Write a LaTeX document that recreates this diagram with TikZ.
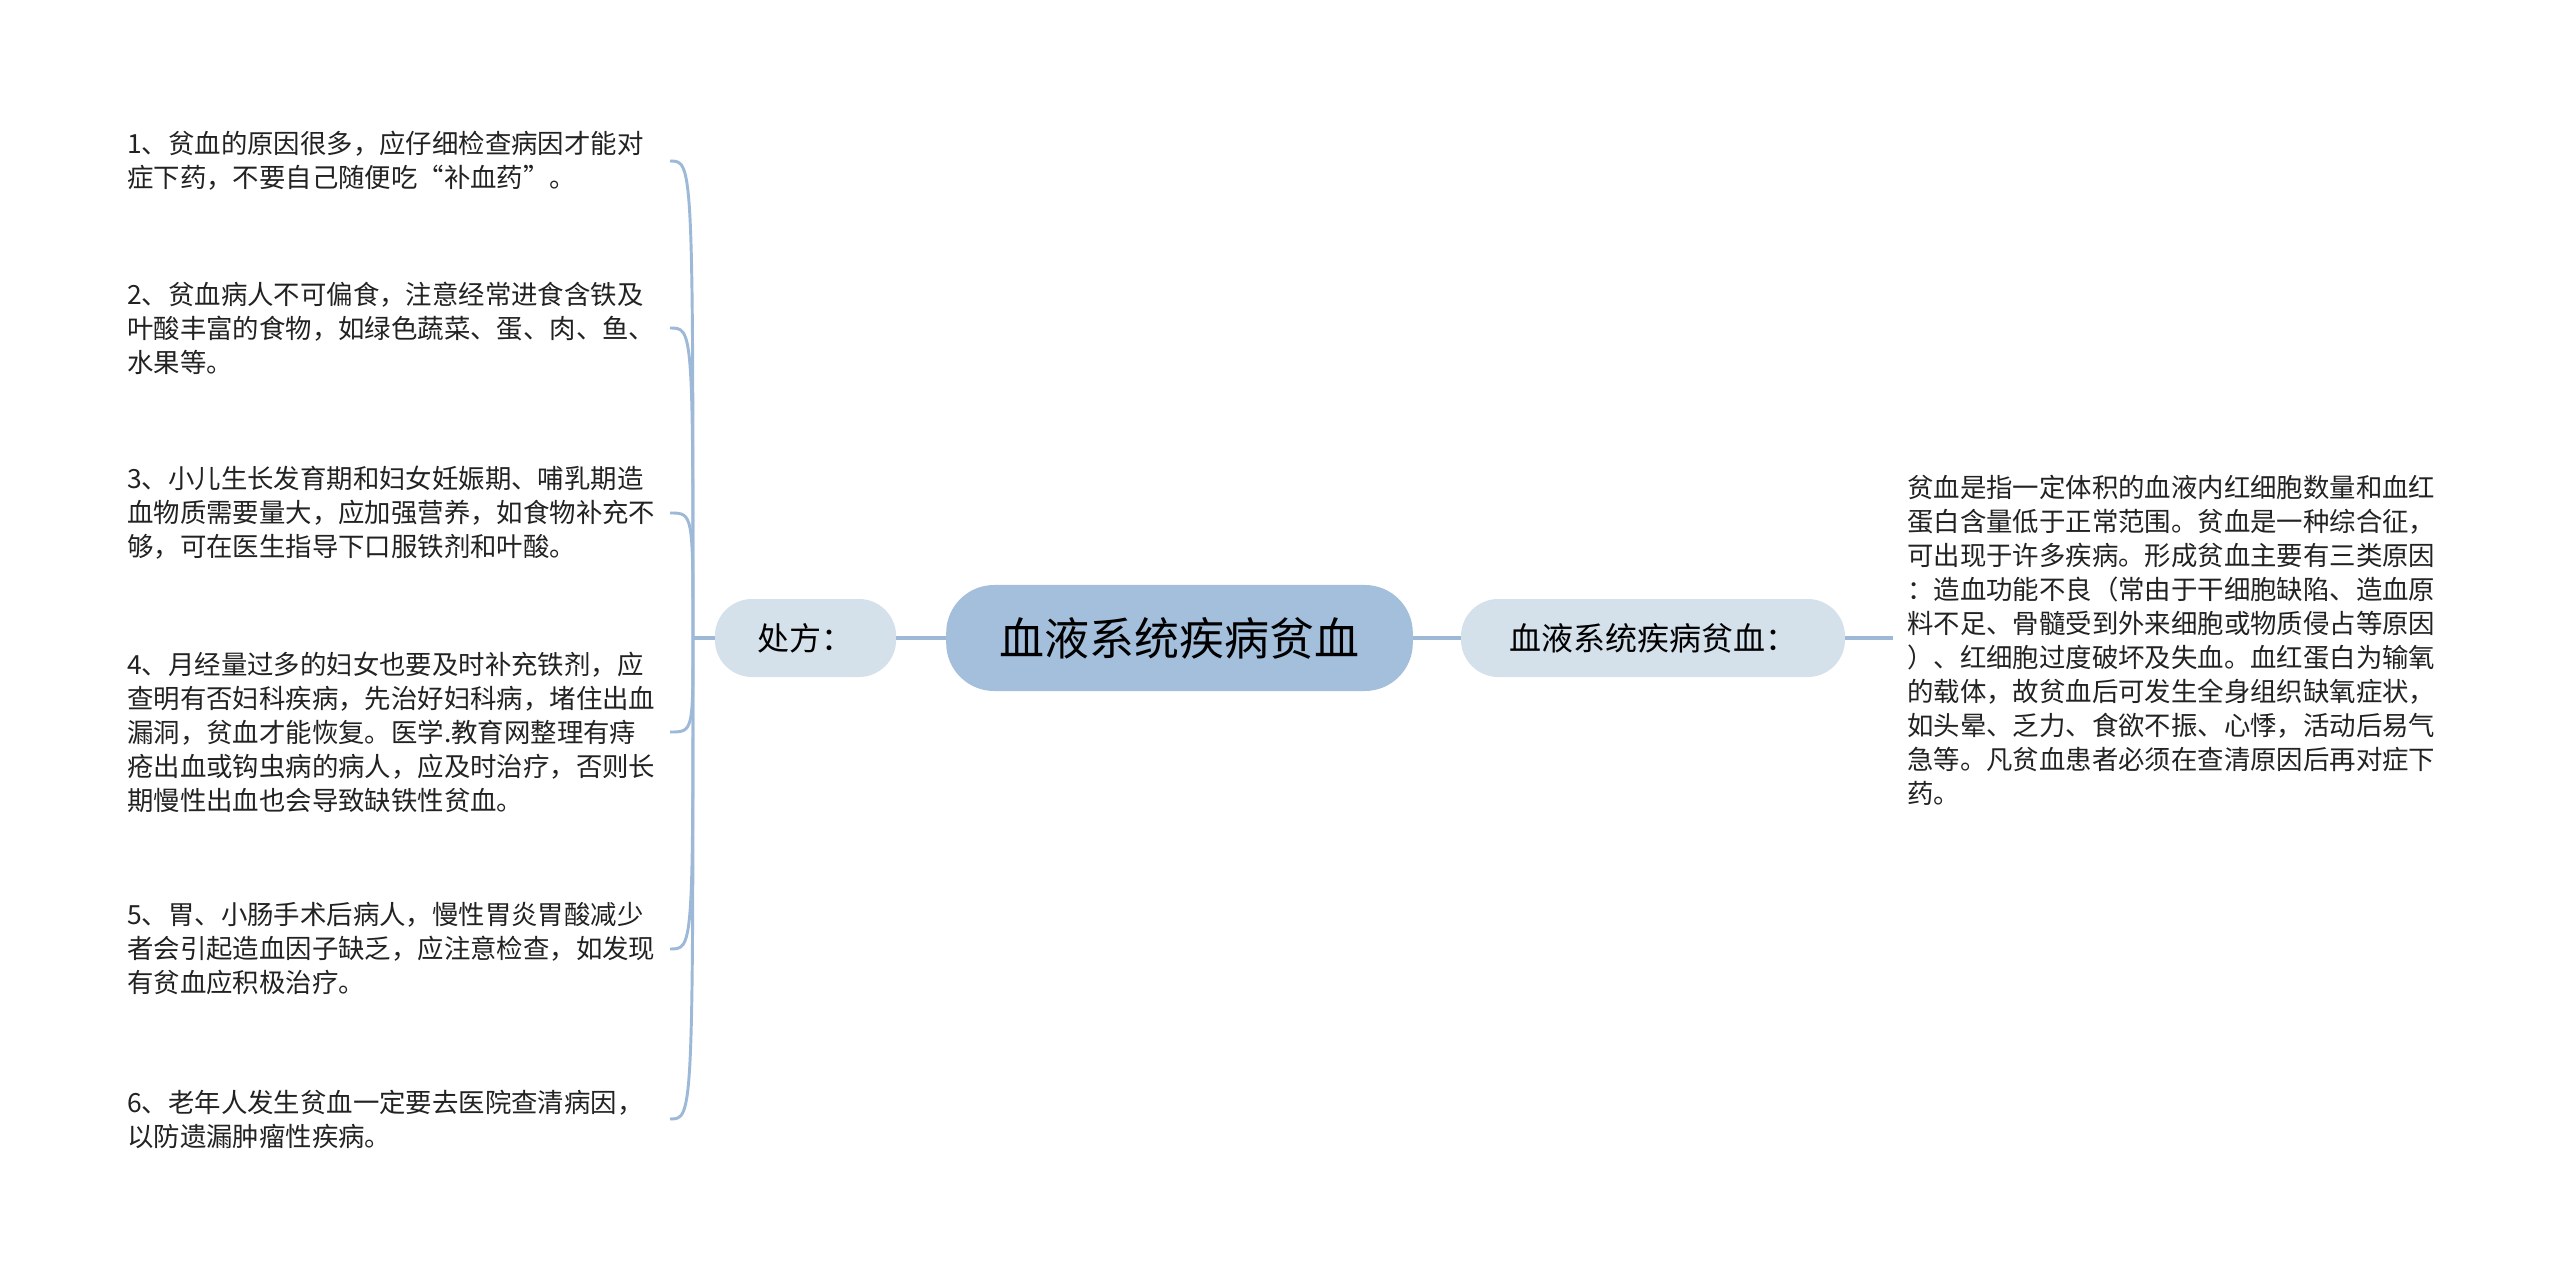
\documentclass[tikz,border=0pt]{standalone}
\usepackage{fontspec}
\setmainfont{Noto Sans CJK SC}
\definecolor{linec}{HTML}{9DB9D7}
\definecolor{rootc}{HTML}{A3BFDB}
\definecolor{subc}{HTML}{D4E0EA}
\definecolor{textc}{HTML}{222222}
\begin{document}
\begin{tikzpicture}[x=0.75pt,y=-0.75pt]
\tikzset{
  conn/.style={draw=linec, line width=3pt},
  bracelink/.style={draw=linec, line width=2.2pt},
  rootbox/.style={fill=rootc, rounded corners=36pt, minimum width=350pt, minimum height=79.5pt, inner sep=0pt, text=black, font=\fontsize{33.75pt}{40pt}\selectfont},
  subbox/.style={fill=subc, rounded corners=28pt, minimum height=58.5pt, inner sep=0pt, text=black, font=\fontsize{24pt}{30pt}\selectfont},
  leaf/.style={anchor=west, align=left, inner sep=0pt, text=textc, font=\fontsize{19.8pt}{25.5pt}\selectfont}
}
\useasboundingbox (0,0) rectangle (2560,1276);
\fill[white] (0,0) rectangle (2560,1276);

\node[rootbox] (root) at (1179.5,638) {血液系统疾病贫血};
\node[subbox, minimum width=136pt] (rx) at (805.5,638) {处方：};
\node[subbox, minimum width=288pt] (rd) at (1653,638) {血液系统疾病贫血：};

\node[leaf] (def) at (1907,640) {贫血是指一定体积的血液内红细胞数量和血红\\蛋白含量低于正常范围。贫血是一种综合征，\\可出现于许多疾病。形成贫血主要有三类原因\\：造血功能不良（常由于干细胞缺陷、造血原\\料不足、骨髓受到外来细胞或物质侵占等原因\\）、红细胞过度破坏及失血。血红蛋白为输氧\\的载体，故贫血后可发生全身组织缺氧症状，\\如头晕、乏力、食欲不振、心悸，活动后易气\\急等。凡贫血患者必须在查清原因后再对症下\\药。};

\node[leaf] (l1) at (127,161) {1、贫血的原因很多，应仔细检查病因才能对\\症下药，不要自己随便吃“补血药”。};
\node[leaf] (l2) at (127,328) {2、贫血病人不可偏食，注意经常进食含铁及\\叶酸丰富的食物，如绿色蔬菜、蛋、肉、鱼、\\水果等。};
\node[leaf] (l3) at (127,513) {3、小儿生长发育期和妇女妊娠期、哺乳期造\\血物质需要量大，应加强营养，如食物补充不\\够，可在医生指导下口服铁剂和叶酸。};
\node[leaf] (l4) at (127,732) {4、月经量过多的妇女也要及时补充铁剂，应\\查明有否妇科疾病，先治好妇科病，堵住出血\\漏洞，贫血才能恢复。医学.教育网整理有痔\\疮出血或钩虫病的病人，应及时治疗，否则长\\期慢性出血也会导致缺铁性贫血。};
\node[leaf] (l5) at (127,949) {5、胃、小肠手术后病人，慢性胃炎胃酸减少\\者会引起造血因子缺乏，应注意检查，如发现\\有贫血应积极治疗。};
\node[leaf] (l6) at (127,1119) {6、老年人发生贫血一定要去医院查清病因，\\以防遗漏肿瘤性疾病。};

\coordinate (j) at (693,638);
\coordinate (e1) at (670,161);
\coordinate (e2) at (670,328);
\coordinate (e3) at (670,513);
\coordinate (e4) at (670,732);
\coordinate (e5) at (670,949);
\coordinate (e6) at (670,1119);
\coordinate (dend) at (1893,638);

\draw[conn] (root.west) -- (rx.east);
\draw[conn] (root.east) -- (rd.west);
\draw[conn] (rd.east) -- (dend);
\draw[conn] (rx.west) -- (j);
\foreach \e/\yy in {e1/161,e2/328,e3/513,e4/732,e5/949,e6/1119}{
  \draw[bracelink] (j) .. controls (693,\yy) .. (\e);
}
\end{tikzpicture}
\end{document}
